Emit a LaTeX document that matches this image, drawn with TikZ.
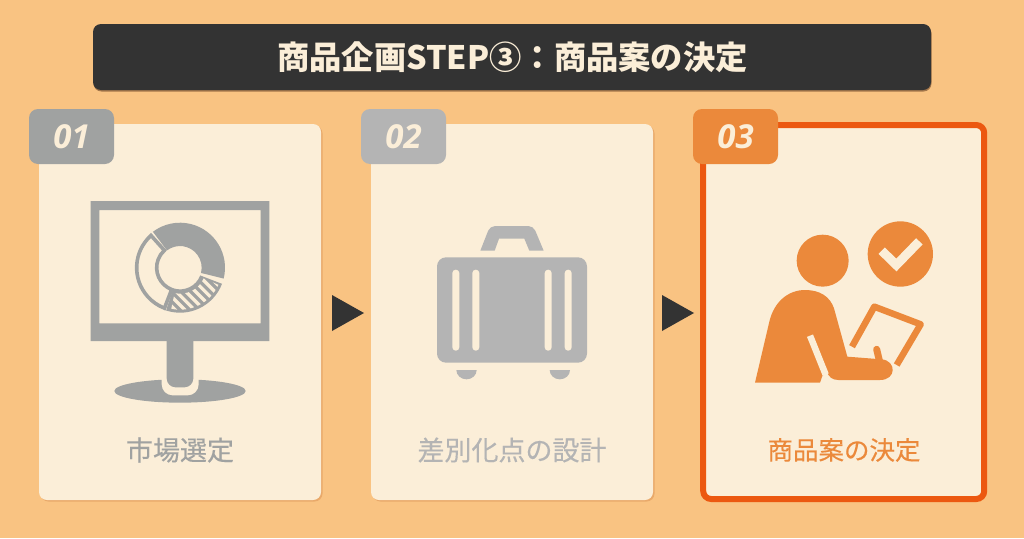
\documentclass[tikz,border=0pt]{standalone}
\usepackage{fontspec}
\newfontfamily\cjk{Noto Sans CJK JP}
\newfontfamily\cjkmed[FakeBold=0.35]{Noto Sans CJK JP}
\newfontfamily\numfont{Open Sans}
\usetikzlibrary{shadows}
\definecolor{bgorange}{HTML}{F9C382}
\definecolor{cardcream}{HTML}{FBEED8}
\definecolor{shade}{HTML}{E9A96A}
\definecolor{darkbar}{HTML}{333333}
\definecolor{grayone}{HTML}{A0A2A1}
\definecolor{graytwo}{HTML}{B4B4B4}
\definecolor{iconorange}{HTML}{EB893B}
\definecolor{hotorange}{HTML}{EC5810}
\tikzset{
	cardbox/.style={fill=cardcream,rounded corners=8pt,minimum width=282pt,minimum height=376pt,
		general shadow={shadow xshift=1.5pt,shadow yshift=-1.5pt,fill=shade}},
	badgebox/.style={rounded corners=9pt,minimum width=85pt,minimum height=55pt,text=cardcream,
		font=\numfont\fontsize{33}{33}\selectfont\bfseries\itshape},
	labeltext/.style={font=\cjkmed\fontsize{27}{27}\selectfont},
	stepmark/.style={fill=darkbar},
}
% x<->y in reference pixels
\newcommand{\donutpart}[4]{(#1:#3) arc[start angle=#1,end angle=#2,radius=#3] -- (#2:#4) arc[start angle=#2,end angle=#1,radius=#4] -- cycle}
\begin{document}
\begin{tikzpicture}[x=1pt,y=-1pt]
	\fill[bgorange] (0,0) rectangle (1024,538);
	\useasboundingbox (0,0) rectangle (1024,538);
	% title
	\node[fill=darkbar,rounded corners=8pt,minimum width=838pt,minimum height=66pt,
		general shadow={shadow xshift=0.5pt,shadow yshift=-1.5pt,fill=shade!70!black}] (titlebar) at (512,57) {};
	\node[text=cardcream,font=\cjk\fontsize{32.3}{32.3}\selectfont\bfseries] (titletext) at (512.5,57) {商品企画STEP③：商品案の決定};
	% cards
	\node[cardbox] (card1) at (180,312) {};
	\node[cardbox] (card2) at (512,312) {};
	\node[cardbox,draw=hotorange,line width=6pt,minimum width=281pt,minimum height=374pt] (card3) at (843.7,312) {};
	\node[badgebox,fill=grayone] (badge1) at (71.5,136.5) {01};
	\node[badgebox,fill=graytwo] (badge2) at (403.5,136.5) {02};
	\node[badgebox,fill=iconorange] (badge3) at (735.5,136.5) {03};
	\node[labeltext,text=grayone] (label1) at (180,450) {市場選定};
	\node[labeltext,text=graytwo] (label2) at (512,450) {差別化点の設計};
	\node[labeltext,text=iconorange,font=\cjkmed\fontsize{25.5}{25.5}\selectfont] (label3) at (844,450) {商品案の決定};
	% arrows
	\fill[stepmark] (332,295)--(364,313)--(332,331)--cycle;
	\fill[stepmark] (662,295)--(694,313)--(662,331)--cycle;
	% monitor
	\begin{scope}[shift={(20,100)},scale=1/3]
	\fill[grayone,even odd rule] (212,303) rectangle (748,723) (238,330) rectangle (722,670);
	\fill[grayone] (283,873) arc[start angle=180,end angle=360,x radius=197,y radius=35]
		arc[start angle=0,end angle=180,x radius=197,y radius=35] -- cycle;
	\fill[cardcream,rounded corners=11pt] (425,800) -- (425,886) -- (536,886) -- (536,800) -- cycle;
	\fill[grayone,rounded corners=9pt] (440,680) -- (440,862) -- (520,862) -- (520,680) -- cycle;
	\end{scope}
	% donut
	\begin{scope}[shift={(180,267.7)},x=1pt,y=1pt,scale=1/3]
	\fill[grayone] \donutpart{-14}{127}{135}{65};
	\fill[grayone] \donutpart{-108}{-21}{135}{65};
	\begin{scope}
	\clip \donutpart{-102}{-24}{126}{78};
	\foreach \i in {-170,-141,...,100}
		\draw[cardcream,line width=3.3pt] (\i-160,160) -- (\i+160,-160);
	\end{scope}
	\draw[grayone,line width=3.6pt,line join=miter] \donutpart{132}{249}{130}{70};
	\end{scope}
	% suitcase
	\begin{scope}[shift={(360,100)},scale=1/3]
	\fill[graytwo] (361,452) [rounded corners=5pt] -- (390,378) -- (520,378) [sharp corners] -- (551,452) -- (508,452) -- (493,416) -- (417,416) -- (404,452) -- cycle;
	\fill[graytwo,rounded corners=9pt] (231,472) rectangle (681,788);
	\fill[cardcream,rounded corners=3.4pt] (277,509) rectangle (298,752);
	\fill[cardcream,rounded corners=3.4pt] (337,509) rectangle (358,752);
	\fill[cardcream,rounded corners=3.4pt] (554,509) rectangle (575,752);
	\fill[cardcream,rounded corners=3.4pt] (614,509) rectangle (635,752);
	\fill[graytwo] (289,810) arc[start angle=180,end angle=0,x radius=30.5,y radius=28] -- cycle;
	\fill[graytwo] (569,810) arc[start angle=180,end angle=0,x radius=30.5,y radius=28] -- cycle;
	\end{scope}
	% person with clipboard
	\begin{scope}[shift={(690,100)},scale=1/3]
	\fill[iconorange] (398,482) circle[radius=78];
	\fill[iconorange] (631,462) circle[radius=98];
	\draw[cardcream,line width=9pt] (575,452) -- (619,495) -- (688,424);
	\draw[iconorange,line width=6.5pt,line join=round] (486,740) -- (553,620) -- (692,673) -- (620,795);
	\fill[cardcream] (470,770) -- (625,805) -- (610,840) -- (470,840) -- cycle;
	\fill[iconorange] (195,848) -- (238,665) .. controls (252,605) and (295,570) .. (345,570)
		.. controls (390,570) and (420,590) .. (432,625) -- (472,770) -- (575,778)
		.. controls (620,782) and (620,840) .. (570,840) -- (445,840)
		.. controls (425,840) and (417,830) .. (410,815) -- (397,828) -- (390,848) -- cycle;
	\draw[iconorange,line width=7pt,line cap=round] (560,748) -- (570,790);
	\draw[cardcream,line width=6.5pt] (360,707) -- (407,824);
	\end{scope}
\end{tikzpicture}
\end{document}
